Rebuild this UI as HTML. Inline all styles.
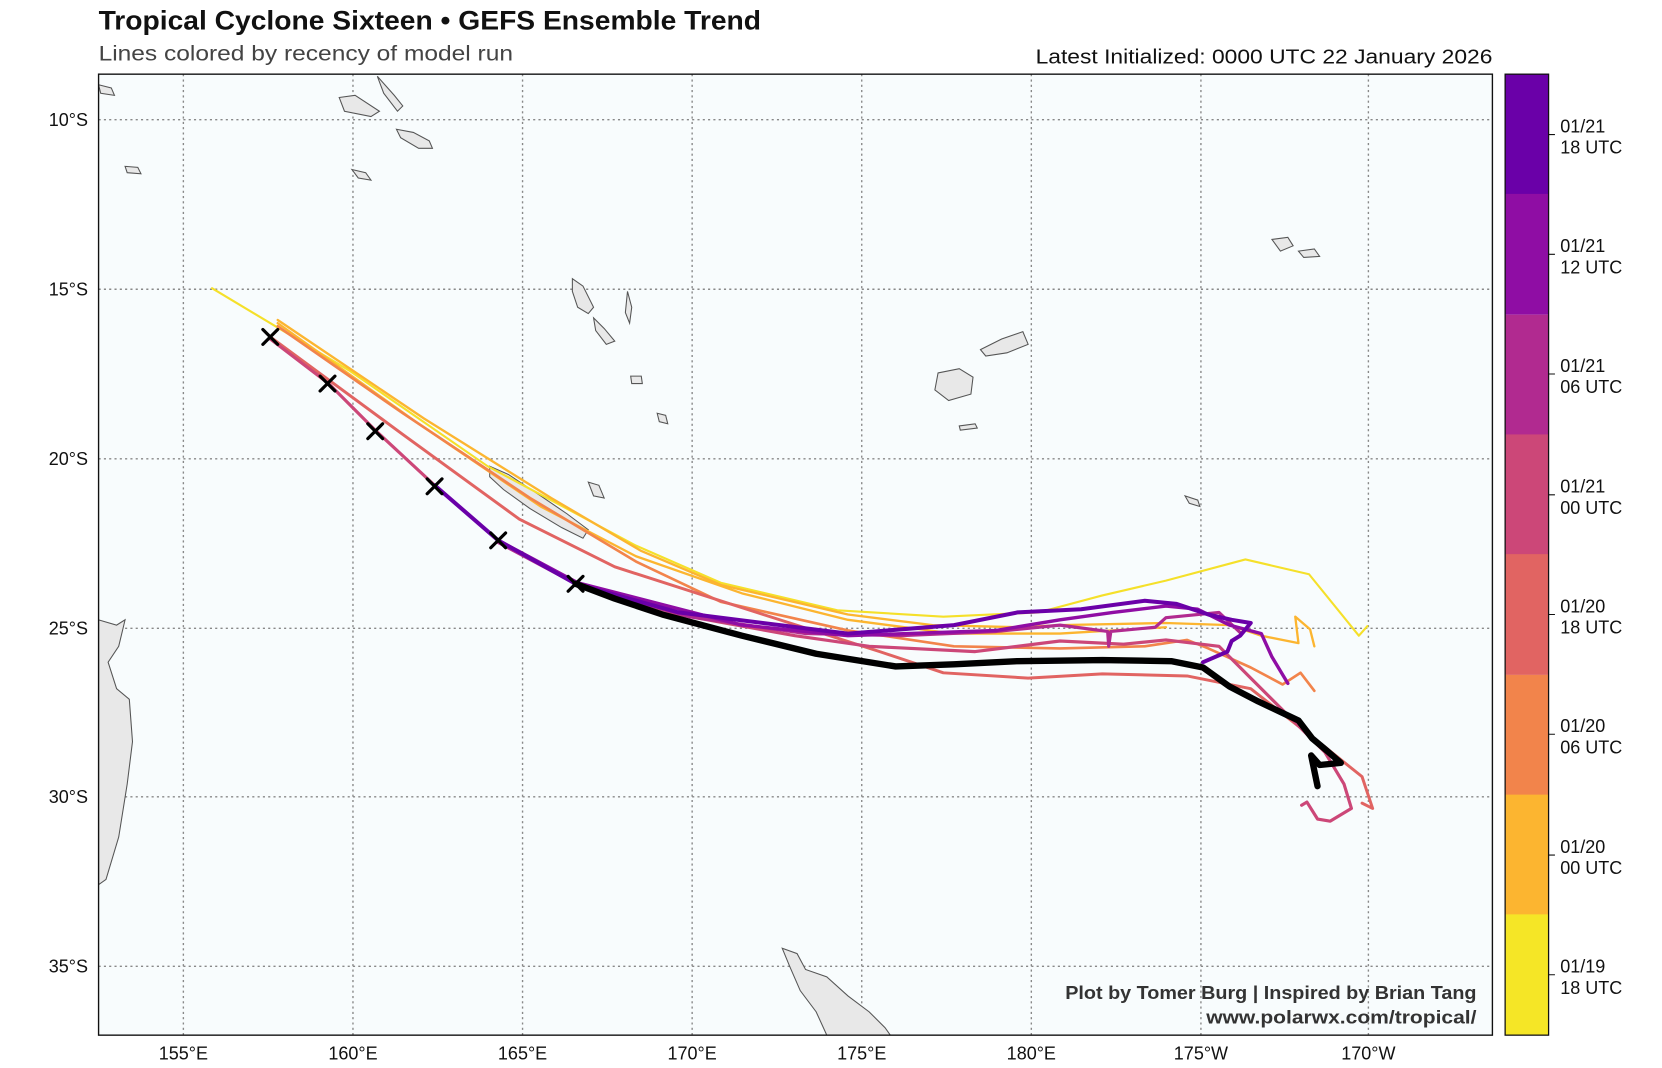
<!DOCTYPE html>
<html><head><meta charset="utf-8"><style>
html,body{margin:0;padding:0;background:#fff;}
svg{display:block;}
text{font-family:"Liberation Sans",sans-serif;}
</style></head><body>
<svg width="1662" height="1068" viewBox="0 0 1568 1008" preserveAspectRatio="none" xmlns="http://www.w3.org/2000/svg">
<rect width="1568" height="1008" fill="#fff"/>
<text x="93" y="28" font-size="25" font-weight="bold" fill="#111" textLength="625" lengthAdjust="spacingAndGlyphs">Tropical Cyclone Sixteen • GEFS Ensemble Trend</text>
<text x="93" y="57" font-size="20" fill="#444" textLength="391" lengthAdjust="spacingAndGlyphs">Lines colored by recency of model run</text>
<text x="977" y="60" font-size="19" fill="#111" textLength="431" lengthAdjust="spacingAndGlyphs">Latest Initialized: 0000 UTC 22 January 2026</text>
<defs><clipPath id="c"><rect x="93" y="70" width="1315" height="907"/></clipPath></defs>
<rect x="93" y="70" width="1315" height="907" fill="#f8fcfd"/>
<g clip-path="url(#c)">
<g stroke="#888" stroke-width="1.3" stroke-dasharray="2,3" fill="none">
<path d="M93 113H1408M93 273H1408M93 433H1408M93 593H1408M93 752H1408M93 912H1408"/>
<path d="M173 70V977M333 70V977M493 70V977M653 70V977M813 70V977M973 70V977M1133 70V977M1291 70V977"/>
</g>
<g fill="#e8e8e8" stroke="#555" stroke-width="1">
<path d="M93 585 L110 590 L118 585 L112 610 L102 625 L110 650 L122 660 L125 700 L120 740 L112 790 L100 830 L93 835Z"/>
<path d="M462 440 L480 448 L510 468 L535 485 L555 500 L550 508 L530 498 L500 480 L475 462 L462 450Z"/>
<path d="M885 352 L905 348 L918 356 L916 372 L895 378 L882 368Z"/>
<path d="M925 330 L945 320 L965 313 L970 325 L950 333 L930 336Z"/>
<path d="M738 895 L752 900 L760 915 L780 922 L800 940 L820 955 L835 970 L840 977 L780 977 L770 955 L755 935 L745 912Z"/>
<path d="M540 263 L550 270 L560 290 L555 296 L545 290 L540 275Z"/>
<path d="M560 300 L570 310 L580 322 L572 325 L562 312Z"/>
<path d="M320 92 L335 90 L358 105 L350 110 L325 105Z"/>
<path d="M374 122 L390 125 L405 133 L408 140 L395 140 L378 130Z"/>
<path d="M356 72 L372 90 L380 100 L375 105 L362 88Z"/>
<path d="M1200 226 L1215 224 L1220 232 L1208 237Z"/>
<path d="M1225 237 L1240 235 L1245 242 L1230 243Z"/>
<path d="M595 355 L605 355 L606 362 L596 362Z"/>
<path d="M118 157 L130 158 L133 164 L120 163Z"/>
<path d="M332 160 L345 163 L350 170 L338 168Z"/>
<path d="M592 275 L596 290 L594 305 L590 295Z"/>
<path d="M905 402 L920 400 L922 404 L906 406Z"/>
<path d="M620 390 L628 392 L630 400 L622 398Z"/>
<path d="M555 455 L565 458 L570 470 L560 468Z"/>
<path d="M1118 468 L1130 472 L1132 478 L1122 475Z"/>
<path d="M93 80 L105 83 L108 90 L95 88Z"/>
</g>
<g fill="none" stroke-linejoin="round" stroke-linecap="round">
<path stroke="#f5e02a" stroke-width="2" d="M200 272 L330 350 L460 440 L600 515 L680 550 L790 576 L890 582 L980 578 L1040 562 L1100 548 L1175 528 L1235 542 L1282 600 L1290 591"/>
<path stroke="#fcb530" stroke-width="2.2" d="M262 302 L400 395 L520 470 L605 520 L680 552 L800 580 L880 590 L960 592 L1000 590 L1100 588 L1160 590 L1190 600 L1225 607 L1222 582 L1236 594 L1240 610"/>
<path stroke="#fcb530" stroke-width="2.2" d="M262 305 L395 400 L510 478 L600 525 L700 560 L800 585 L900 598 L1000 598 L1100 592"/>
<path stroke="#f2844b" stroke-width="2.5" d="M262 308 L380 390 L500 470 L600 530 L680 568 L800 595 L900 610 L1000 612 L1080 610 L1120 604 L1140 612 L1180 630 L1210 646 L1227 635 L1240 652"/>
<path stroke="#e16462" stroke-width="2.8" d="M255 318 L380 410 L490 490 L580 535 L720 580 L830 615 L890 635 L970 640 L1040 636 L1120 638 L1180 650 L1250 705 L1285 733 L1295 763 L1285 758"/>
<path stroke="#cc4778" stroke-width="3" d="M255 320 L310 362 L355 407 L410 458 L470 510 L545 550 L640 580 L750 600 L820 610 L920 615 L1000 605 L1060 608 L1100 604 L1150 610 L1180 640 L1220 680 L1250 710 L1268 740 L1275 763 L1255 775 L1243 773 L1233 757 L1228 760"/>
<path stroke="#b12a90" stroke-width="3" d="M470 512 L545 552 L650 582 L760 598 L850 600 L940 596 L1000 590 L1045 596 L1046 610 L1048 596 L1090 592 L1100 583 L1150 578 L1170 597"/>
<path stroke="#8f0da4" stroke-width="3.2" d="M470 510 L545 550 L700 590 L800 600 L940 595 L1000 585 L1050 578 L1100 572 L1130 575 L1160 590 L1190 598 L1200 620 L1215 645"/>
<path stroke="#6a00a8" stroke-width="3.8" d="M410 458 L470 510 L543 551 L640 578 L800 598 L900 590 L960 578 L1020 575 L1080 567 L1110 570 L1140 580 L1162 585 L1180 588 L1170 600 L1162 605 L1158 615 L1135 625"/>
<path stroke="#000" stroke-width="6" d="M543 551 L580 565 L625 580 L700 600 L770 617 L845 629 L900 627 L960 624 L1040 623 L1105 624 L1135 630 L1160 648 L1187 662 L1225 680 L1238 697 L1250 707 L1265 720 L1245 722 L1237 713 L1243 742"/>
</g>
<g stroke="#000" stroke-width="3" stroke-linecap="round">
<path d="M248 311l14 14M262 311l-14 14"/>
<path d="M302 355l14 14M316 355l-14 14"/>
<path d="M347 400l14 14M361 400l-14 14"/>
<path d="M403 452l14 14M417 452l-14 14"/>
<path d="M463 503l14 14M477 503l-14 14"/>
<path d="M536 544l14 14M550 544l-14 14"/>
</g>
<text x="1005" y="943" font-size="17" font-weight="bold" fill="#333" textLength="388" lengthAdjust="spacingAndGlyphs">Plot by Tomer Burg | Inspired by Brian Tang</text>
<text x="1138" y="966" font-size="17" font-weight="bold" fill="#333" textLength="255" lengthAdjust="spacingAndGlyphs">www.polarwx.com/tropical/</text>
</g>
<rect x="93" y="70" width="1315" height="907" fill="none" stroke="#111" stroke-width="1.3"/>
<g font-size="17" fill="#111" text-anchor="end">
<text x="83" y="119">10°S</text><text x="83" y="279">15°S</text><text x="83" y="439">20°S</text>
<text x="83" y="599">25°S</text><text x="83" y="758">30°S</text><text x="83" y="918">35°S</text>
</g>
<g font-size="17" fill="#111" text-anchor="middle">
<text x="173" y="1000">155°E</text><text x="333" y="1000">160°E</text><text x="493" y="1000">165°E</text>
<text x="653" y="1000">170°E</text><text x="813" y="1000">175°E</text><text x="973" y="1000">180°E</text>
<text x="1133" y="1000">175°W</text><text x="1291" y="1000">170°W</text>
</g>
<g>
<rect x="1420" y="70" width="41" height="114" fill="#6a00a8"/>
<rect x="1420" y="183" width="41" height="114" fill="#8f0da4"/>
<rect x="1420" y="297" width="41" height="114" fill="#b12a90"/>
<rect x="1420" y="410" width="41" height="114" fill="#cc4778"/>
<rect x="1420" y="523" width="41" height="114" fill="#e16462"/>
<rect x="1420" y="637" width="41" height="114" fill="#f2844b"/>
<rect x="1420" y="750" width="41" height="114" fill="#fcb530"/>
<rect x="1420" y="863" width="41" height="114" fill="#f5e626"/>
<rect x="1420" y="70" width="41" height="907" fill="none" stroke="#111" stroke-width="1.2"/>
</g>
<g font-size="17" fill="#111" stroke="#111">
<path d="M1461 127h6M1461 240h6M1461 353h6M1461 467h6M1461 580h6M1461 693h6M1461 807h6M1461 920h6" stroke-width="1"/>
<g stroke="none">
<text x="1472" y="125">01/21</text><text x="1472" y="145">18 UTC</text>
<text x="1472" y="238">01/21</text><text x="1472" y="258">12 UTC</text>
<text x="1472" y="351">01/21</text><text x="1472" y="371">06 UTC</text>
<text x="1472" y="465">01/21</text><text x="1472" y="485">00 UTC</text>
<text x="1472" y="578">01/20</text><text x="1472" y="598">18 UTC</text>
<text x="1472" y="691">01/20</text><text x="1472" y="711">06 UTC</text>
<text x="1472" y="805">01/20</text><text x="1472" y="825">00 UTC</text>
<text x="1472" y="918">01/19</text><text x="1472" y="938">18 UTC</text>
</g></g>
</svg>
</body></html>
